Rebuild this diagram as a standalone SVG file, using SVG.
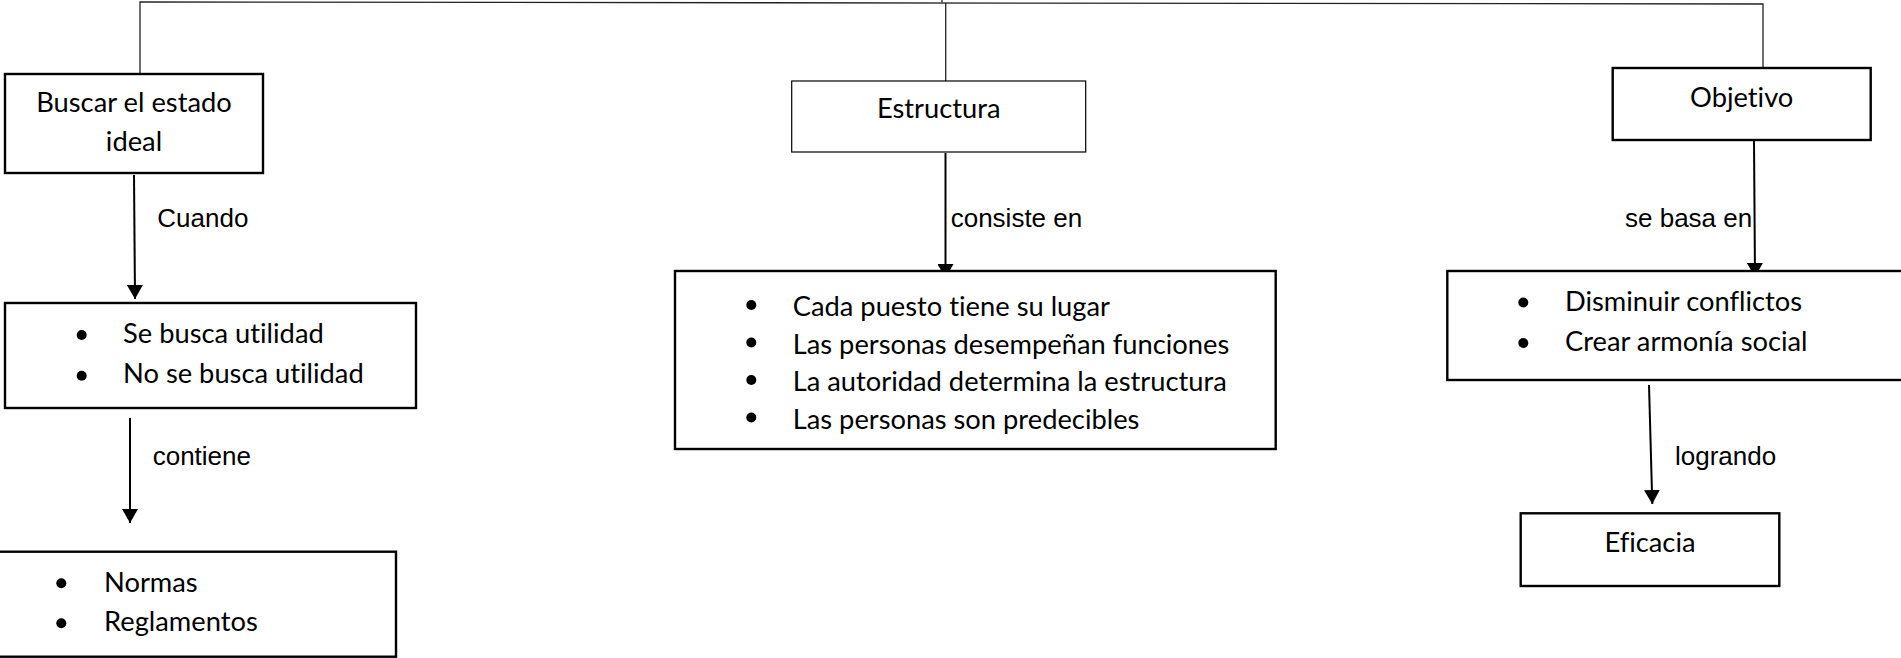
<svg xmlns="http://www.w3.org/2000/svg" width="1901" height="658" viewBox="0 0 1901 658">
<style>
.box{fill:#fff;stroke:#000;stroke-width:2.4}
.thin{fill:#fff;stroke:#000;stroke-width:1.2}
.t{font-family:Lato,"Open Sans",sans-serif;font-size:27.3px;fill:#000;font-variant-ligatures:none;font-feature-settings:"liga" 0,"clig" 0}
.c{text-anchor:middle}
.lbl{font-family:"Liberation Sans",Arial,sans-serif;font-size:26px;fill:#000}
.arr{stroke:#000;stroke-width:2;fill:none;marker-end:url(#ah)}
.ln{stroke:#222;stroke-width:1.3;fill:none}
.dot{fill:#000}
</style>
<defs>
<marker id="ah" markerUnits="userSpaceOnUse" markerWidth="16" markerHeight="16" refX="14" refY="8" orient="auto">
<path d="M0,0 L14,8 L0,16 Z" fill="#000"/>
</marker>
</defs>
<rect width="1901" height="658" fill="#fff"/>
<g id="connectors">
<polyline class="ln" points="140,78 140,2 1763,4 1763,75"/>
<line class="ln" x1="945.7" y1="3" x2="945.7" y2="88"/>
<line class="ln" x1="942" y1="0" x2="942" y2="2.5"/>
<line class="arr" x1="134" y1="175" x2="135" y2="299"/>
<line class="arr" x1="130" y1="418" x2="130" y2="523"/>
<line class="arr" x1="945.5" y1="153" x2="945.5" y2="278"/>
<line class="arr" x1="1754" y1="141" x2="1755" y2="277"/>
<line class="arr" x1="1649" y1="385" x2="1652.3" y2="504"/>
<text class="lbl" x="157.3" y="226.7">Cuando</text>
<text class="lbl" x="152.7" y="465">contiene</text>
<text class="lbl" x="950.7" y="227.3">consiste en</text>
<text class="lbl" x="1625" y="227.3">se basa en</text>
<text class="lbl" x="1675" y="465">logrando</text>
</g>
<g id="buscar">
<rect class="box" x="5" y="74" width="258" height="99"/>
<text class="t c" x="134" y="112.3">Buscar el estado</text>
<text class="t c" x="134" y="150.7">ideal</text>
</g>
<g id="utilidad">
<rect class="box" x="5" y="303" width="411" height="105"/>
<circle class="dot" cx="81.7" cy="335" r="5"/>
<circle class="dot" cx="81.7" cy="375.7" r="5"/>
<text class="t" x="123" y="342.7">Se busca utilidad</text>
<text class="t" x="123" y="383.3">No se busca utilidad</text>
</g>
<g id="normas">
<rect class="box" x="-3" y="551.7" width="399" height="105"/>
<circle class="dot" cx="61.3" cy="583.3" r="5"/>
<circle class="dot" cx="61.3" cy="623.3" r="5"/>
<text class="t" x="104" y="591.7">Normas</text>
<text class="t" x="104" y="630.7">Reglamentos</text>
</g>
<g id="estructura">
<rect class="thin" x="791.7" y="81" width="294" height="71"/>
<text class="t c" x="938.7" y="118.3">Estructura</text>
</g>
<g id="estructura-items">
<rect class="box" x="675" y="271" width="600.7" height="178"/>
<circle class="dot" cx="751.3" cy="305" r="5"/>
<circle class="dot" cx="751.3" cy="342.5" r="5"/>
<circle class="dot" cx="751.3" cy="380" r="5"/>
<circle class="dot" cx="751.3" cy="417.5" r="5"/>
<text class="t" x="792.7" y="316">Cada puesto tiene su lugar</text>
<text class="t" x="792.7" y="353.5">Las personas desempeñan funciones</text>
<text class="t" x="792.7" y="391">La autoridad determina la estructura</text>
<text class="t" x="792.7" y="428.5">Las personas son predecibles</text>
</g>
<g id="objetivo">
<rect class="box" x="1612.7" y="68" width="258" height="72"/>
<text class="t c" x="1741.7" y="106.7">Objetivo</text>
</g>
<g id="objetivo-items">
<rect class="box" x="1447.3" y="271" width="458" height="109"/>
<circle class="dot" cx="1523.3" cy="302.5" r="5"/>
<circle class="dot" cx="1523.3" cy="343" r="5"/>
<text class="t" x="1565" y="310.7">Disminuir conflictos</text>
<text class="t" x="1565" y="350.7">Crear armonía social</text>
</g>
<g id="eficacia">
<rect class="box" x="1520.7" y="513.3" width="258.6" height="72.7"/>
<text class="t c" x="1650" y="551.7">Eficacia</text>
</g>
</svg>
